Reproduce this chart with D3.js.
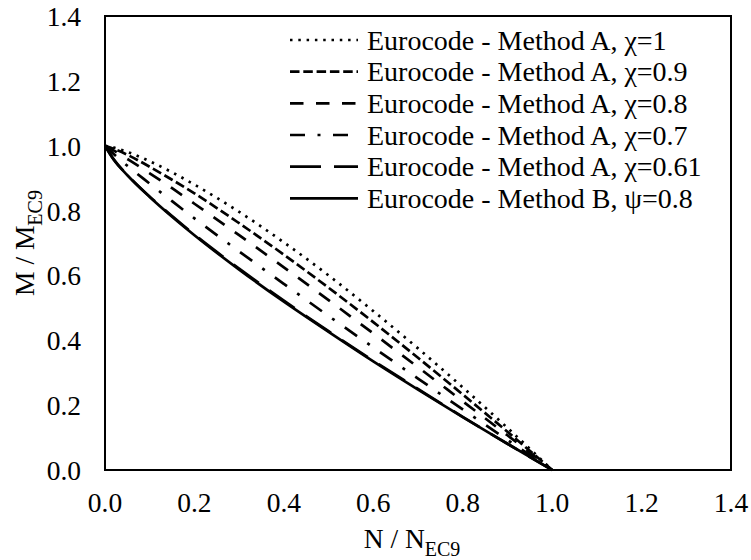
<!DOCTYPE html>
<html>
<head>
<meta charset="utf-8">
<script src="https://cdn.jsdelivr.net/npm/d3@7"></script>
<style>
  html, body { margin: 0; padding: 0; background: #fff; }
  svg { display: block; }
</style>
</head>
<body>
<svg id="chart" width="751" height="560" font-family="'Liberation Serif', 'Times New Roman', Times, serif"></svg>
<script>
// Normalised axial force N / N_EC9 at which the interaction curves are sampled
const nValues = [0, 0.02, 0.05, 0.1, 0.15, 0.2, 0.3, 0.4, 0.5, 0.6, 0.7, 0.8, 0.9, 1.0];

// Normalised moment M / M_EC9 for each interaction curve
const methodA_chi100 = [1, 0.994, 0.981, 0.952, 0.918, 0.880, 0.796, 0.702, 0.600, 0.490, 0.375, 0.255, 0.130, 0];
const methodA_chi090 = [1, 0.990, 0.972, 0.935, 0.895, 0.853, 0.761, 0.664, 0.562, 0.456, 0.346, 0.233, 0.118, 0];
const methodA_chi080 = [1, 0.985, 0.959, 0.915, 0.869, 0.821, 0.724, 0.625, 0.524, 0.421, 0.317, 0.212, 0.107, 0];
const methodA_chi070 = [1, 0.974, 0.938, 0.883, 0.829, 0.776, 0.674, 0.574, 0.475, 0.378, 0.282, 0.187, 0.093, 0];
const methodA_chi061 = [1, 0.957, 0.910, 0.843, 0.783, 0.726, 0.621, 0.522, 0.428, 0.337, 0.250, 0.164, 0.081, 0];
const methodB_psi080 = [1, 0.956, 0.909, 0.842, 0.781, 0.724, 0.618, 0.519, 0.426, 0.335, 0.248, 0.163, 0.081, 0];

const seriesNames = [
  "Eurocode - Method A, χ=1",
  "Eurocode - Method A, χ=0.9",
  "Eurocode - Method A, χ=0.8",
  "Eurocode - Method A, χ=0.7",
  "Eurocode - Method A, χ=0.61",
  "Eurocode - Method B, ψ=0.8"
];
const seriesValues = [methodA_chi100, methodA_chi090, methodA_chi080, methodA_chi070, methodA_chi061, methodB_psi080];
const seriesDash = ["2.5,5.8", "9.5,3.8", "13.5,12.5", "15,12.5,3,12.5", "31,13", null];

const xTicks = [0, 0.2, 0.4, 0.6, 0.8, 1.0, 1.2, 1.4];
const yTicks = [0, 0.2, 0.4, 0.6, 0.8, 1.0, 1.2, 1.4];

const serif = "'Liberation Serif', 'Times New Roman', Times, serif";
const svg = d3.select("#chart");
const plot = { left: 105, right: 731, top: 16, bottom: 470 };
const tickFont = 27.5, legendFont = 28, subFont = 20;

const x = d3.scaleLinear().domain([0, 1.4]).range([plot.left, plot.right]);
const y = d3.scaleLinear().domain([0, 1.4]).range([plot.bottom, plot.top]);

// Tick labels
svg.append("g").selectAll("text").data(xTicks).join("text")
  .attr("x", d => x(d))
  .attr("y", 512)
  .attr("text-anchor", "middle")
  .attr("font-family", serif)
  .attr("font-size", tickFont)
  .text(d => d3.format(".1f")(d));

svg.append("g").selectAll("text").data(yTicks).join("text")
  .attr("x", 81)
  .attr("y", d => y(d) + 10)
  .attr("text-anchor", "end")
  .attr("font-family", serif)
  .attr("font-size", tickFont)
  .text(d => d3.format(".1f")(d));

// Curves
const line = d3.line()
  .x((d, i) => x(nValues[i]))
  .y(d => y(d))
  .curve(d3.curveMonotoneX);

const curves = svg.append("g");
seriesValues.forEach((vals, k) => {
  curves.append("path")
    .datum(vals)
    .attr("d", line)
    .attr("fill", "none")
    .attr("stroke", "#000")
    .attr("stroke-width", 2.7)
    .attr("stroke-linejoin", "round")
    .attr("stroke-dasharray", seriesDash[k]);
});

// Plot frame
svg.append("rect")
  .attr("x", plot.left)
  .attr("y", plot.top)
  .attr("width", plot.right - plot.left)
  .attr("height", plot.bottom - plot.top)
  .attr("fill", "none")
  .attr("stroke", "#000")
  .attr("stroke-width", 2);

// Legend
const legend = svg.append("g");
const legendTop = 40, legendStep = 31.67;
seriesNames.forEach((name, k) => {
  const ly = legendTop + k * legendStep;
  legend.append("line")
    .attr("x1", 290).attr("x2", 358)
    .attr("y1", ly).attr("y2", ly)
    .attr("stroke", "#000")
    .attr("stroke-width", 2.7)
    .attr("stroke-dasharray", seriesDash[k]);
  legend.append("text")
    .attr("x", 367)
    .attr("y", ly + 9.5)
    .attr("font-family", serif)
    .attr("font-size", legendFont)
    .text(name);
});

// Axis titles
const xTitle = svg.append("text")
  .attr("x", 412)
  .attr("y", 548)
  .attr("text-anchor", "middle")
  .attr("font-family", serif)
  .attr("font-size", tickFont);
xTitle.append("tspan").text("N / N");
xTitle.append("tspan").attr("font-size", subFont).attr("dy", 8).text("EC9");

const yTitle = svg.append("text")
  .attr("transform", `translate(34,243) rotate(-90)`)
  .attr("text-anchor", "middle")
  .attr("font-family", serif)
  .attr("font-size", tickFont);
yTitle.append("tspan").text("M / M");
yTitle.append("tspan").attr("font-size", subFont).attr("dy", 8).text("EC9");
</script>
</body>
</html>
